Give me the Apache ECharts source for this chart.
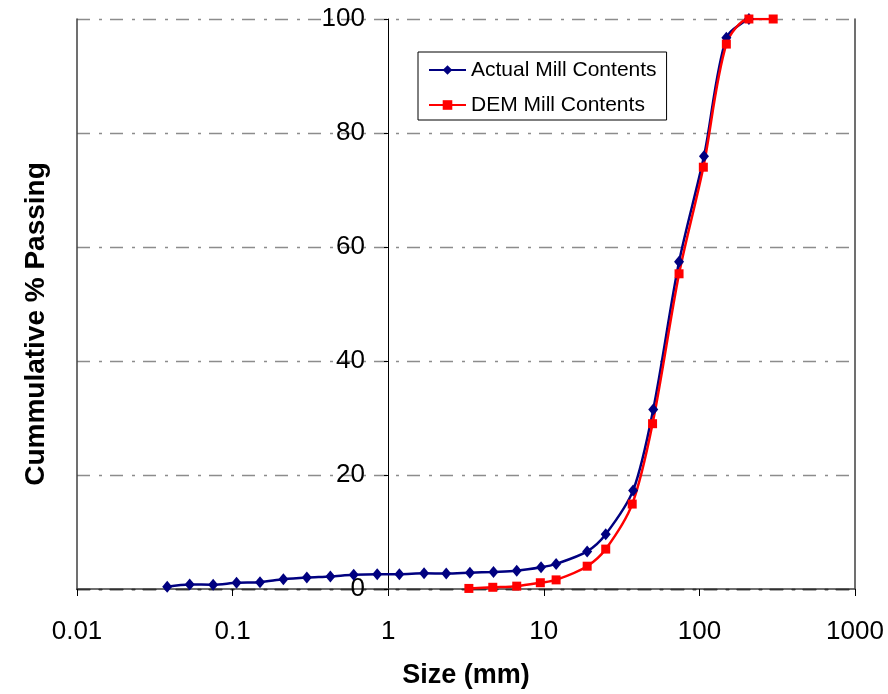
<!DOCTYPE html>
<html>
<head>
<meta charset="utf-8">
<script src="https://cdn.jsdelivr.net/npm/echarts@6/dist/echarts.min.js"></script>
<style>
html,body{margin:0;padding:0;background:#fff;}
#chart{width:888px;height:694px;}
</style>
</head>
<body>
<div id="chart"></div>
<script>
// ---- data ----
const actualSize = [0.038, 0.053, 0.075, 0.106, 0.15, 0.212, 0.3, 0.425, 0.6, 0.85, 1.18, 1.7, 2.36, 3.35, 4.75, 6.7, 9.6, 12, 19, 25, 37.5, 50.5, 74, 107, 149, 208];
const actualPassing = [0.4, 0.8, 0.75, 1.1, 1.2, 1.7, 2.0, 2.2, 2.5, 2.6, 2.6, 2.75, 2.7, 2.85, 3.0, 3.2, 3.8, 4.4, 6.6, 9.6, 17.3, 31.5, 57.4, 75.9, 96.7, 100];
const demSize = [3.3, 4.7, 6.7, 9.5, 12, 19, 25, 37, 50, 74, 106, 149, 208, 298];
const demPassing = [0.1, 0.3, 0.5, 1.1, 1.6, 4.0, 7.0, 14.9, 29.0, 55.3, 74.0, 95.6, 100, 100];
const seriesNames = ['Actual Mill Contents', 'DEM Mill Contents'];
const xTickLabels = ['0.01', '0.1', '1', '10', '100', '1000'];
const yTickLabels = ['0', '20', '40', '60', '80', '100'];
const xTitle = 'Size (mm)';
const yTitle = 'Cummulative % Passing';

const FONT = '"Liberation Sans", Arial, sans-serif';
const dashDot = [13, 9, 3, 8];

const chart = echarts.init(document.getElementById('chart'), null, {renderer: 'canvas'});
const option = {
  animation: false,
  backgroundColor: '#fff',
  grid: {left: 77, right: 33, top: 19, bottom: 105, outerBoundsMode: 'none', containLabel: false},
  legend: {
    orient: 'vertical',
    left: 418, top: 52,
    backgroundColor: '#fff',
    borderColor: '#000', borderWidth: 1, borderRadius: 0,
    padding: [6, 10, 3, 10],
    itemWidth: 37, itemHeight: 12, itemGap: 11,
    textStyle: {fontFamily: FONT, fontSize: 21, color: '#000', lineHeight: 24},
    data: seriesNames
  },
  xAxis: [{
    type: 'log', logBase: 10, min: 0.01, max: 1000,
    position: 'bottom',
    name: xTitle, nameLocation: 'middle', nameGap: 73,
    nameTextStyle: {fontFamily: FONT, fontSize: 27, fontWeight: 'bold', color: '#000'},
    axisLine: {show: true, lineStyle: {color: '#000', width: 1.4, type: dashDot}},
    axisTick: {show: true, inside: false, length: 7, lineStyle: {color: '#000', width: 1}},
    minorTick: {show: false},
    axisLabel: {
      margin: 30, fontFamily: FONT, fontSize: 26, color: '#000',
      formatter: function (v) { return xTickLabels[Math.round(Math.log10(v)) + 2]; }
    },
    splitLine: {show: false}
  }, {
    type: 'log', logBase: 10, min: 0.01, max: 1000,
    position: 'top',
    axisLine: {show: true, lineStyle: {color: '#404040', width: 1.5}},
    axisTick: {show: false}, axisLabel: {show: false}, splitLine: {show: false}
  }],
  yAxis: [{
    type: 'value', min: 0, max: 100, interval: 20,
    position: 'left', offset: -311,
    name: yTitle, nameLocation: 'middle', nameGap: 338,
    nameTextStyle: {fontFamily: FONT, fontSize: 28, fontWeight: 'bold', color: '#000', padding: [0, 40, 0, 0]},
    axisLine: {show: true, onZero: false, lineStyle: {color: '#000', width: 1}},
    axisTick: {show: true, inside: false, length: 4, lineStyle: {color: '#000'}},
    axisLabel: {
      margin: 23, fontFamily: FONT, fontSize: 26, color: '#000', padding: [4, 0, 0, 0],
      formatter: function (v) { return yTickLabels[Math.round(v / 20)]; }
    },
    splitLine: {show: true, lineStyle: {color: '#8c8c8c', width: 1.3, type: dashDot}}
  }, {
    type: 'value', min: 0, max: 100, position: 'left', offset: 0,
    axisLine: {show: true, onZero: false, lineStyle: {color: '#404040', width: 1.5}},
    axisTick: {show: false}, axisLabel: {show: false}, splitLine: {show: false}
  }, {
    type: 'value', min: 0, max: 100, position: 'right', offset: 0,
    axisLine: {show: true, onZero: false, lineStyle: {color: '#404040', width: 1.5}},
    axisTick: {show: false}, axisLabel: {show: false}, splitLine: {show: false}
  }],
  series: [{
    name: seriesNames[0], type: 'line', xAxisIndex: 0, yAxisIndex: 0,
    data: actualSize.map((x, i) => [x, actualPassing[i]]),
    smooth: 0.3,
    symbol: 'diamond', symbolSize: [10, 12],
    lineStyle: {color: '#000080', width: 2.5},
    itemStyle: {color: '#000080'}
  }, {
    name: seriesNames[1], type: 'line', xAxisIndex: 0, yAxisIndex: 0,
    data: demSize.map((x, i) => [x, demPassing[i]]),
    smooth: 0.3,
    symbol: 'rect', symbolSize: 9,
    lineStyle: {color: '#ff0000', width: 2.5},
    itemStyle: {color: '#ff0000'}
  }]
};
chart.setOption(option);
</script>
</body>
</html>
